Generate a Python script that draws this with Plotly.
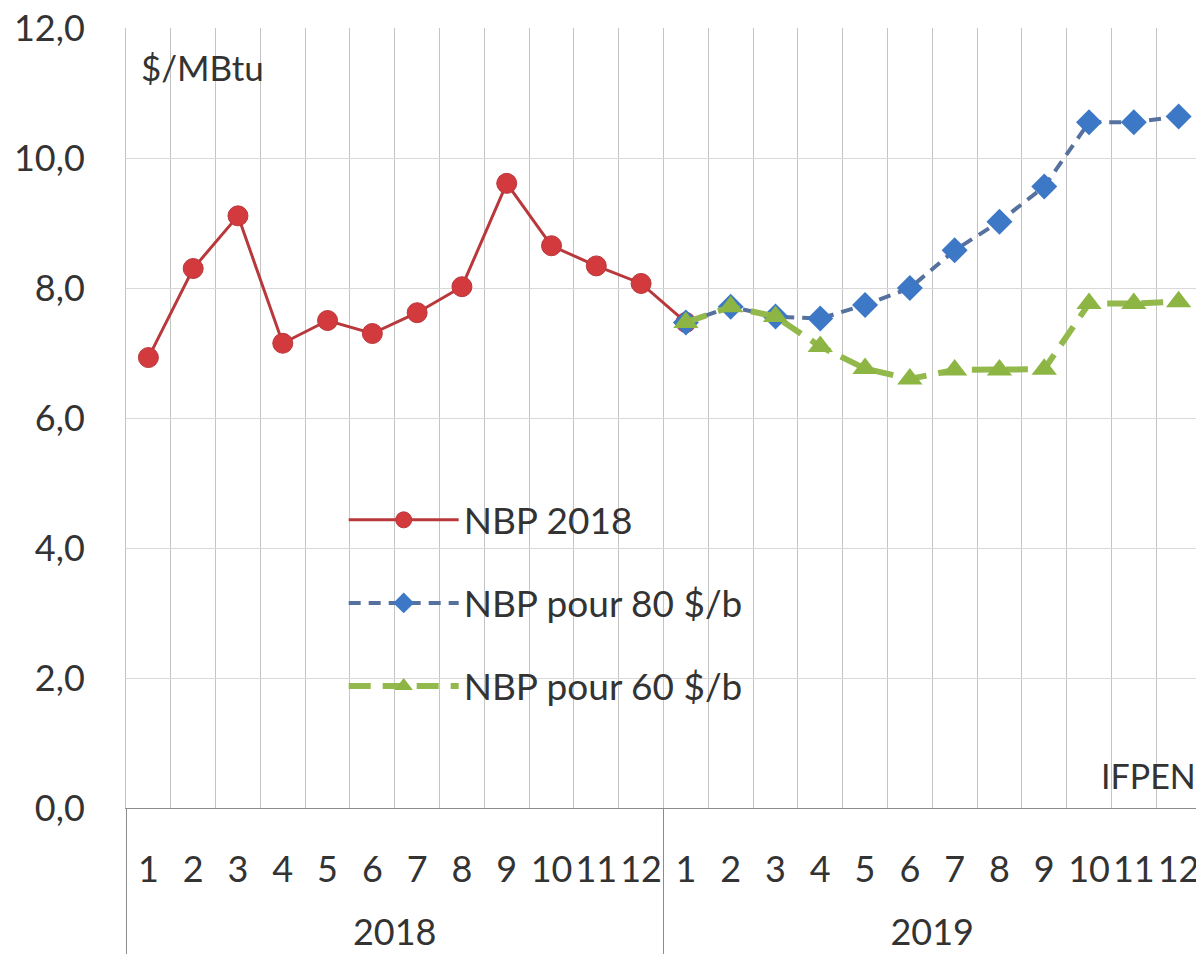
import plotly.graph_objects as go

# Categories (two-level axis: year / month)
years = ["2018"] * 12 + ["2019"] * 12
months = ["1", "2", "3", "4", "5", "6", "7", "8", "9", "10", "11", "12",
          "1", "2", "3", "4", "5", "6", "7", "8", "9", "10", "11", "12"]

# NBP prices, $/MBtu (2018 observed up to Jan 2019, then two scenarios)
nbp_2018 = [6.93, 8.30, 9.11, 7.15, 7.50, 7.30, 7.62, 8.02, 9.61, 8.65, 8.34, 8.07,
            7.47, None, None, None, None, None, None, None, None, None, None, None]
nbp_80 = [None] * 12 + [7.47, 7.71, 7.56, 7.53, 7.74, 8.00, 8.58, 9.02, 9.56, 10.55, 10.55, 10.64]
nbp_60 = [None] * 12 + [7.47, 7.71, 7.56, 7.10, 6.76, 6.60, 6.74, 6.74, 6.75, 7.76, 7.76, 7.79]

FONT = "Lato"
# leading line break pushes the year row further below the month row
x = [["<br>" + y for y in years], months]

fig = go.Figure()
fig.add_trace(go.Scatter(
    x=x, y=nbp_2018, name="NBP 2018", mode="lines+markers", legendgroup="a",
    line=dict(color="#B8383C", width=3),
    marker=dict(symbol="circle", size=20, color="#D33A3D", line=dict(color="#B8383C", width=1)),
))
fig.add_trace(go.Scatter(
    x=x, y=nbp_80, name="NBP pour 80 $/b", mode="lines+markers", legendgroup="b",
    line=dict(color="#56719E", width=4, dash="12px,8px"),
    marker=dict(symbol="diamond", size=20, color="#3D78C6"),
))
fig.add_trace(go.Scatter(
    x=x, y=nbp_60, name="NBP pour 60 $/b", mode="lines+markers", legendgroup="c",
    line=dict(color="#93B84C", width=6, dash="22px,12px"),
    marker=dict(symbol="triangle-up", size=22, color="#8DB543"),
))

# page body has an 8px margin, so the figure is sized to fit the window
fig.update_layout(
    width=1196, height=955,
    margin=dict(l=118, r=3, t=20, b=155),
    paper_bgcolor="white", plot_bgcolor="white",
    separators=", ",
    font=dict(family=FONT, size=34, color="#333333"),
    showlegend=True,
    legend=dict(
        x=0.2025, y=0.4086, xanchor="left", yanchor="top",
        bgcolor="rgba(0,0,0,0)", itemwidth=110, tracegroupgap=32,
        font=dict(family=FONT, size=37, color="#333333"),
    ),
    annotations=[
        dict(text="$/MBtu", xref="paper", yref="paper", x=0.012, y=0.95,
             xanchor="left", yanchor="middle", showarrow=False,
             font=dict(family=FONT, size=35, color="#333333")),
        dict(text="IFPEN", xref="paper", yref="paper", x=0.997, y=0.042,
             xanchor="right", yanchor="middle", showarrow=False,
             font=dict(family=FONT, size=34, color="#333333")),
    ],
)

fig.update_xaxes(
    type="multicategory", range=[-0.5, 23.5], automargin=False,
    tickson="boundaries", ticks="", tickangle=0, ticklabelstandoff=30,
    showgrid=True, gridcolor="#C4C4C4", gridwidth=1,
    showline=True, linecolor="#8C8C8C", linewidth=1,
    showdividers=True, dividercolor="#8C8C8C", dividerwidth=1,
    tickfont=dict(family=FONT, size=36, color="#333333"),
)
fig.update_yaxes(
    range=[0, 12], dtick=2, tickformat=".1f", automargin=False,
    showgrid=True, gridcolor="#D9D9D9", gridwidth=1,
    showline=True, mirror=True, linecolor="#C4C4C4",
    zeroline=False, ticks="", ticklabelstandoff=33, ticklabeloverflow="allow",
    tickfont=dict(family=FONT, size=36, color="#333333"),
)

fig.write_html("out.html")
